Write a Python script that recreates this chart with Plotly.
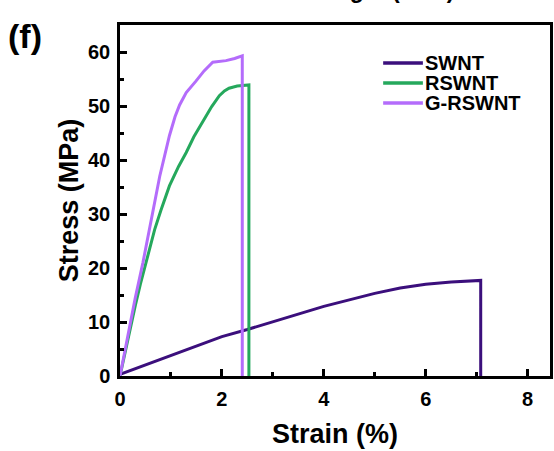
import plotly.graph_objects as go

# Tensile stress-strain curves of the three films
series_names = ["SWNT", "RSWNT", "G-RSWNT"]
series_colors = ["#3b0f7c", "#25a85c", "#b46cfb"]

swnt_strain = [0.0, 0.4, 1.0, 2.0, 2.5, 3.0, 3.5, 4.0, 4.5, 5.0, 5.5, 6.0, 6.5, 7.08, 7.08]
swnt_stress = [0.3, 1.7, 3.8, 7.3, 8.6, 10.0, 11.5, 12.9, 14.1, 15.3, 16.3, 17.0, 17.4, 17.7, 0.0]

rswnt_strain = [0.0, 0.1, 0.2, 0.3, 0.4, 0.5, 0.68, 0.8, 0.97, 1.15, 1.3, 1.45, 1.62,
                1.8, 1.95, 2.05, 2.14, 2.3, 2.53, 2.53]
rswnt_stress = [0.0, 4.5, 9.0, 13.0, 17.0, 20.5, 27.1, 30.6, 35.2, 38.8, 41.4, 44.3, 47.0,
                49.9, 51.9, 52.8, 53.3, 53.7, 53.9, 0.0]

grswnt_strain = [0.0, 0.1, 0.2, 0.3, 0.45, 0.58, 0.78, 0.97, 1.08, 1.17, 1.3, 1.49, 1.65,
                 1.82, 2.0, 2.08, 2.25, 2.40, 2.40]
grswnt_stress = [0.0, 5.0, 10.0, 14.5, 21.0, 27.5, 37.0, 44.5, 48.0, 50.2, 52.5, 54.6, 56.5,
                 58.1, 58.3, 58.4, 58.8, 59.3, 0.0]

x_range = [0, 8.44]
y_range = [0, 65]
x_ticks = [0, 2, 4, 6, 8]
y_ticks = [0, 10, 20, 30, 40, 50, 60]

FONT = "Liberation Sans, Arial, sans-serif"
W, H = 554, 451
ML, MR, MT, MB = 120, 1, 25, 75

fig = go.Figure()
for name, color, xs, ys in zip(
    series_names,
    series_colors,
    [swnt_strain, rswnt_strain, grswnt_strain],
    [swnt_stress, rswnt_stress, grswnt_stress],
):
    fig.add_trace(go.Scatter(x=xs, y=ys, mode="lines", name=name,
                             line=dict(color=color, width=3),
                             showlegend=False))

axis_common = dict(
    showgrid=False, zeroline=False, showline=True, linecolor="black",
    linewidth=2.5, mirror=True, ticks="inside", tickcolor="black",
    tickwidth=2.5, ticklen=7, ticklabelstandoff=3,
    tickfont=dict(family=FONT, size=20, color="black", weight="bold"),
    minor=dict(ticks="inside", ticklen=4, tickwidth=2.5, tickcolor="black"),
)

fig.update_xaxes(range=x_range, tickvals=x_ticks, **axis_common,
                 title=dict(text="Strain (%)", standoff=16,
                            font=dict(family=FONT, size=27, color="black", weight="bold")))
fig.update_xaxes(minor_tickvals=[1, 3, 5, 7])
fig.update_yaxes(range=y_range, tickvals=y_ticks, **axis_common,
                 title=dict(text="Stress (MPa)", standoff=2,
                            font=dict(family=FONT, size=27, color="black", weight="bold")))
fig.update_yaxes(minor_tickvals=[5, 15, 25, 35, 45, 55])

pw = W - ML - MR
ph = H - MT - MB


def px_x(px):
    return (px - ML) / pw


def px_y(py):
    return (H - MB - py) / ph


# Legend drawn as line samples and labels
shapes = []
annotations = []
for i, (name, color) in enumerate(zip(series_names, series_colors)):
    yy = px_y(63 + 20 * i)
    shapes.append(dict(type="line", xref="paper", yref="paper",
                       x0=px_x(385), x1=px_x(425), y0=yy, y1=yy,
                       line=dict(color=color, width=3.5)))
    annotations.append(dict(xref="paper", yref="paper", x=px_x(425), y=yy,
                            xanchor="left", yanchor="middle", showarrow=False,
                            text=name,
                            font=dict(family=FONT, size=20, color="black", weight="bold")))

# Panel label
annotations.append(dict(xref="paper", yref="paper", x=px_x(5), y=px_y(36),
                        xanchor="left", yanchor="middle", showarrow=False,
                        text="(f)",
                        font=dict(family=FONT, size=34, color="black", weight="bold")))
# Title of the panel above, mostly outside the page
annotations.append(dict(xref="paper", yref="paper", x=px_x(206), y=px_y(5),
                        xanchor="left", yanchor="bottom", showarrow=False,
                        text="Tensile Strength (MPa)",
                        font=dict(family=FONT, size=23, color="black", weight="bold")))

fig.update_layout(
    width=W, height=H,
    margin=dict(l=ML, r=MR, t=MT, b=MB, pad=0),
    paper_bgcolor="white", plot_bgcolor="white",
    showlegend=False,
    shapes=shapes, annotations=annotations,
)

fig.write_html("out.html")
